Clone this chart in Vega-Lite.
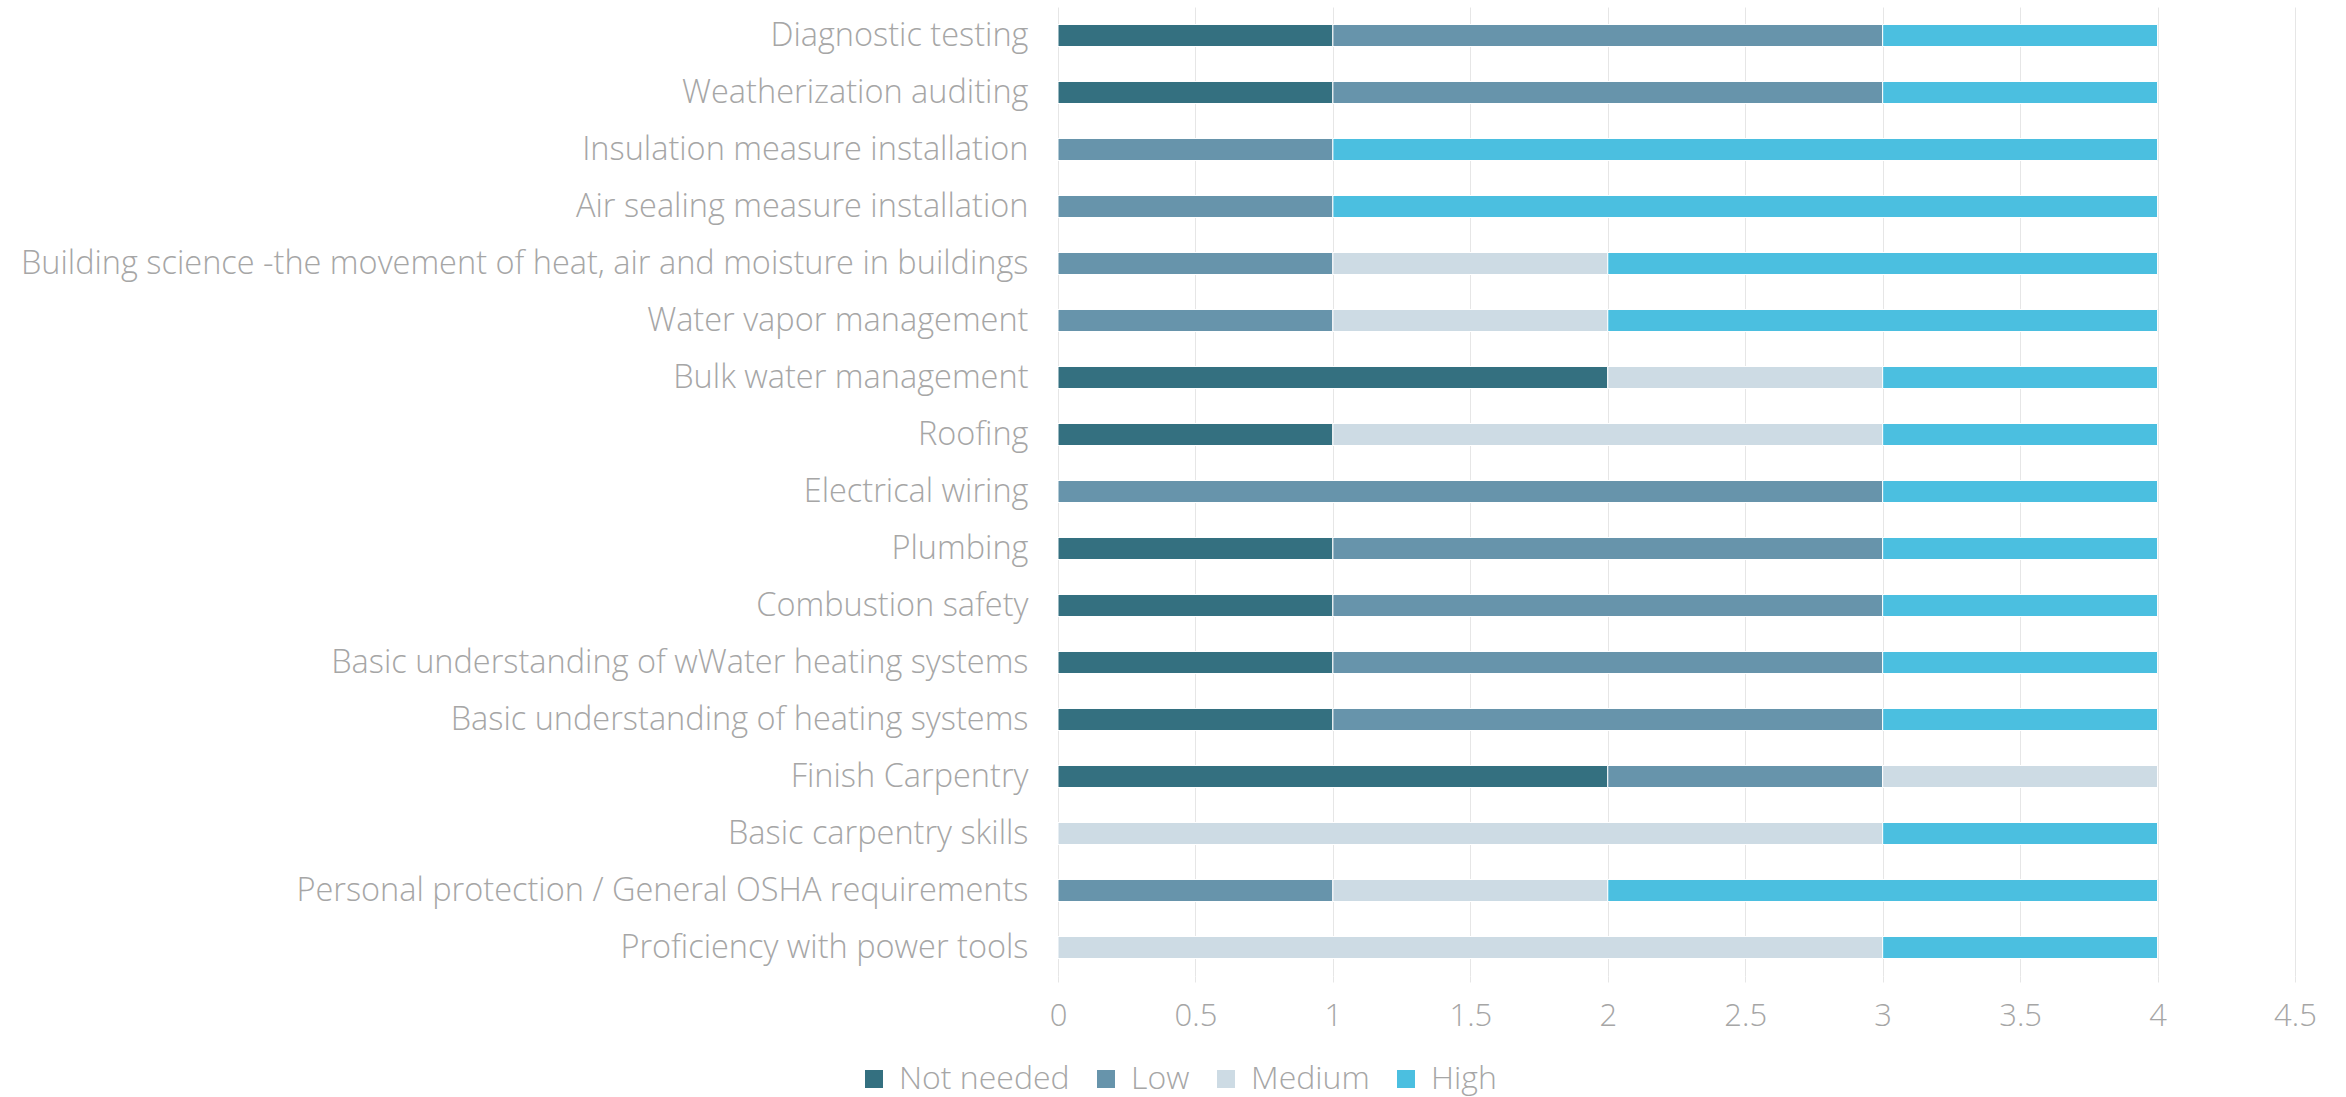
{
 "$schema": "https://vega.github.io/schema/vega-lite/v6.json",
 "width": 1237,
 "height": 969,
 "autosize": {"type": "none"},
 "padding": {"left": 1058, "top": 7, "right": 51, "bottom": 121},
 "background": "white",
 "config": {"view": {"stroke": null}, "font": "Open Sans"},
 "data": {"values": [
  {"skill": "Diagnostic testing", "level": "Not needed", "rank": 0, "value": 1},
  {"skill": "Diagnostic testing", "level": "Low", "rank": 1, "value": 2},
  {"skill": "Diagnostic testing", "level": "High", "rank": 3, "value": 1},
  {"skill": "Weatherization auditing", "level": "Not needed", "rank": 0, "value": 1},
  {"skill": "Weatherization auditing", "level": "Low", "rank": 1, "value": 2},
  {"skill": "Weatherization auditing", "level": "High", "rank": 3, "value": 1},
  {"skill": "Insulation measure installation", "level": "Low", "rank": 1, "value": 1},
  {"skill": "Insulation measure installation", "level": "High", "rank": 3, "value": 3},
  {"skill": "Air sealing measure installation", "level": "Low", "rank": 1, "value": 1},
  {"skill": "Air sealing measure installation", "level": "High", "rank": 3, "value": 3},
  {"skill": "Building science -the movement of heat, air and moisture in buildings", "level": "Low", "rank": 1, "value": 1},
  {"skill": "Building science -the movement of heat, air and moisture in buildings", "level": "Medium", "rank": 2, "value": 1},
  {"skill": "Building science -the movement of heat, air and moisture in buildings", "level": "High", "rank": 3, "value": 2},
  {"skill": "Water vapor management", "level": "Low", "rank": 1, "value": 1},
  {"skill": "Water vapor management", "level": "Medium", "rank": 2, "value": 1},
  {"skill": "Water vapor management", "level": "High", "rank": 3, "value": 2},
  {"skill": "Bulk water management", "level": "Not needed", "rank": 0, "value": 2},
  {"skill": "Bulk water management", "level": "Medium", "rank": 2, "value": 1},
  {"skill": "Bulk water management", "level": "High", "rank": 3, "value": 1},
  {"skill": "Roofing", "level": "Not needed", "rank": 0, "value": 1},
  {"skill": "Roofing", "level": "Medium", "rank": 2, "value": 2},
  {"skill": "Roofing", "level": "High", "rank": 3, "value": 1},
  {"skill": "Electrical wiring", "level": "Low", "rank": 1, "value": 3},
  {"skill": "Electrical wiring", "level": "High", "rank": 3, "value": 1},
  {"skill": "Plumbing", "level": "Not needed", "rank": 0, "value": 1},
  {"skill": "Plumbing", "level": "Low", "rank": 1, "value": 2},
  {"skill": "Plumbing", "level": "High", "rank": 3, "value": 1},
  {"skill": "Combustion safety", "level": "Not needed", "rank": 0, "value": 1},
  {"skill": "Combustion safety", "level": "Low", "rank": 1, "value": 2},
  {"skill": "Combustion safety", "level": "High", "rank": 3, "value": 1},
  {"skill": "Basic understanding of wWater heating systems", "level": "Not needed", "rank": 0, "value": 1},
  {"skill": "Basic understanding of wWater heating systems", "level": "Low", "rank": 1, "value": 2},
  {"skill": "Basic understanding of wWater heating systems", "level": "High", "rank": 3, "value": 1},
  {"skill": "Basic understanding of heating systems", "level": "Not needed", "rank": 0, "value": 1},
  {"skill": "Basic understanding of heating systems", "level": "Low", "rank": 1, "value": 2},
  {"skill": "Basic understanding of heating systems", "level": "High", "rank": 3, "value": 1},
  {"skill": "Finish Carpentry", "level": "Not needed", "rank": 0, "value": 2},
  {"skill": "Finish Carpentry", "level": "Low", "rank": 1, "value": 1},
  {"skill": "Finish Carpentry", "level": "Medium", "rank": 2, "value": 1},
  {"skill": "Basic carpentry skills", "level": "Medium", "rank": 2, "value": 3},
  {"skill": "Basic carpentry skills", "level": "High", "rank": 3, "value": 1},
  {"skill": "Personal protection / General OSHA requirements", "level": "Low", "rank": 1, "value": 1},
  {"skill": "Personal protection / General OSHA requirements", "level": "Medium", "rank": 2, "value": 1},
  {"skill": "Personal protection / General OSHA requirements", "level": "High", "rank": 3, "value": 2},
  {"skill": "Proficiency with power tools", "level": "Medium", "rank": 2, "value": 3},
  {"skill": "Proficiency with power tools", "level": "High", "rank": 3, "value": 1}
 ]},
 "mark": {"type": "bar", "stroke": "white", "strokeWidth": 1},
 "encoding": {
  "y": {
   "field": "skill", "type": "nominal",
   "sort": ["Diagnostic testing", "Weatherization auditing", "Insulation measure installation", "Air sealing measure installation", "Building science -the movement of heat, air and moisture in buildings", "Water vapor management", "Bulk water management", "Roofing", "Electrical wiring", "Plumbing", "Combustion safety", "Basic understanding of wWater heating systems", "Basic understanding of heating systems", "Finish Carpentry", "Basic carpentry skills", "Personal protection / General OSHA requirements", "Proficiency with power tools"],
   "scale": {"paddingInner": 0.614, "paddingOuter": 0.307},
   "axis": {"title": null, "ticks": false, "domain": false, "labelFontSize": 32.5, "labelColor": "#a6a6a6", "labelPadding": 30, "labelFontWeight": 300, "labelLimit": 1100}
  },
  "x": {
   "field": "value", "type": "quantitative", "stack": "zero",
   "scale": {"domain": [0, 4.5], "nice": false},
   "axis": {"title": null, "values": [0, 0.5, 1, 1.5, 2, 2.5, 3, 3.5, 4, 4.5], "format": "~g", "grid": true, "gridColor": "#e6e6e6", "domain": false, "tickColor": "#e6e6e6", "tickSize": 6, "labelFontSize": 31, "labelColor": "#a6a6a6", "labelPadding": 19, "labelFlush": false, "labelFontWeight": 300}
  },
  "color": {
   "field": "level", "type": "nominal",
   "scale": {"domain": ["Not needed", "Low", "Medium", "High"], "range": ["#347080", "#6794ab", "#cddbe4", "#4bbfe0"]},
   "legend": {"title": null, "orient": "none", "direction": "horizontal", "legendX": -200, "legendY": 1056, "symbolType": "square", "symbolSize": 324, "symbolStrokeWidth": 0, "labelFontSize": 32, "labelColor": "#a6a6a6", "labelFontWeight": 300, "labelOffset": 9, "labelLimit": 400, "columnPadding": 20}
  },
  "order": {"field": "rank", "type": "quantitative"}
 }
}
